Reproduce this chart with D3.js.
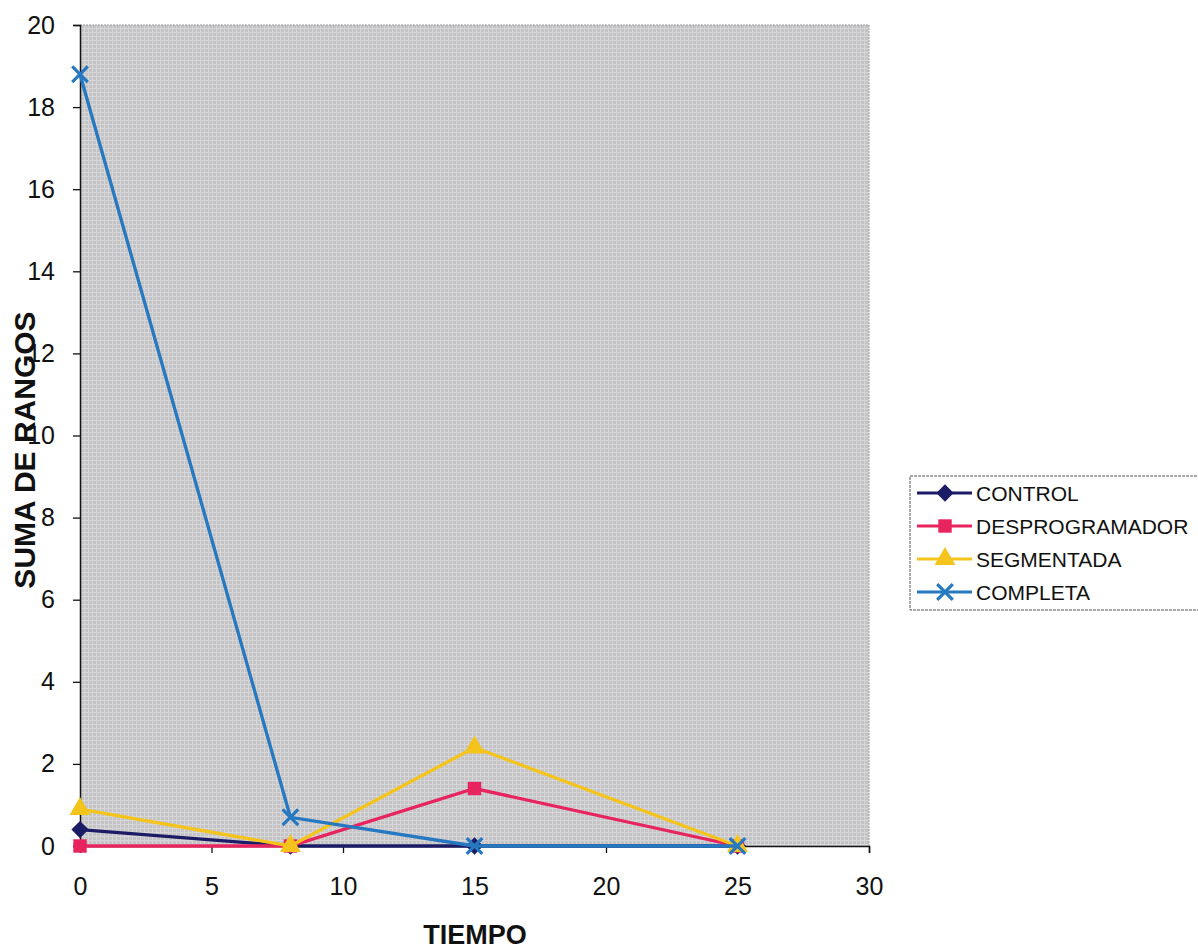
<!DOCTYPE html>
<html>
<head>
<meta charset="utf-8">
<script src="https://cdn.jsdelivr.net/npm/d3@7"></script>
<style>
  body { margin: 0; background: #fff; }
  svg { display: block; font-family: "Liberation Sans", Arial, sans-serif; }
</style>
</head>
<body>
<svg id="chart" width="1198" height="951"></svg>
<script>
const tiempo = [0, 8, 15, 25];
const seriesNames = ["CONTROL", "DESPROGRAMADOR", "SEGMENTADA", "COMPLETA"];
const control = [0.4, 0, 0, 0];
const desprogramador = [0, 0, 1.4, 0];
const segmentada = [0.9, 0, 2.4, 0];
const completa = [18.8, 0.7, 0, 0];
const xTicks = [0, 5, 10, 15, 20, 25, 30];
const yTicks = [0, 2, 4, 6, 8, 10, 12, 14, 16, 18, 20];
const xTitle = "TIEMPO";
const yTitle = "SUMA DE RANGOS";

const seriesValues = [control, desprogramador, segmentada, completa];
const colors = ["#1b1b66", "#e8245f", "#f4c41c", "#2678c0"];
const markers = ["diamond", "square", "triangle", "x"];

const svg = d3.select("#chart");
const L = 80, R = 869, T = 25, B = 846;
const x = d3.scaleLinear().domain([0, 30]).range([L, R]);
const y = d3.scaleLinear().domain([0, 20]).range([B, T]);

// stipple pattern
const defs = svg.append("defs");
const pat = defs.append("pattern").attr("id", "stip").attr("width", 4).attr("height", 4)
  .attr("patternUnits", "userSpaceOnUse");
pat.append("rect").attr("width", 4).attr("height", 4).attr("fill", "#c4c4c6");
pat.append("rect").attr("width", 4).attr("height", 1).attr("fill", "#d6d6d8");
pat.append("rect").attr("width", 1).attr("height", 4).attr("fill", "#d6d6d8");

svg.append("rect").attr("x", L).attr("y", T).attr("width", R - L).attr("height", B - T)
  .attr("fill", "url(#stip)");
// faint right/top border
svg.append("path").attr("d", `M${L},${T}H${R}V${B}`).attr("fill", "none")
  .attr("stroke", "#999").attr("stroke-width", 1).attr("stroke-dasharray", "2,1");

// axes
const xAxis = d3.axisBottom(x).tickValues(xTicks).tickSize(7).tickPadding(24);
const gx = svg.append("g").attr("transform", `translate(0,${B})`).call(xAxis);
gx.select(".domain").attr("stroke", "#111").attr("stroke-width", 1.5);
gx.selectAll(".tick line").attr("stroke", "#111").attr("stroke-width", 1.3);
gx.selectAll("text").attr("font-size", 25).attr("fill", "#111")
  .attr("font-family", "'Liberation Sans', Arial, sans-serif");

const yAxis = d3.axisLeft(y).tickValues(yTicks).tickSize(7).tickPadding(18);
const gy = svg.append("g").attr("transform", `translate(${L},0)`).call(yAxis);
gy.select(".domain").attr("stroke", "#111").attr("stroke-width", 1.5);
gy.selectAll(".tick line").attr("stroke", "#111").attr("stroke-width", 1.3);
gy.selectAll("text").attr("font-size", 25).attr("fill", "#111")
  .attr("font-family", "'Liberation Sans', Arial, sans-serif");

// titles
svg.append("text").attr("x", 475).attr("y", 944).attr("text-anchor", "middle")
  .attr("font-size", 27).attr("font-weight", "bold").attr("fill", "#111").text(xTitle);
svg.append("text").attr("transform", "translate(35,450) rotate(-90)").attr("text-anchor", "middle")
  .attr("font-size", 30).attr("font-weight", "bold").attr("fill", "#111").text(yTitle);

function drawMarker(g, type, cx, cy, color) {
  if (type === "diamond") {
    g.append("path").attr("d", d3.symbol(d3.symbolDiamond2 || d3.symbolDiamond, 190)())
      .attr("transform", `translate(${cx},${cy})`).attr("fill", color);
  } else if (type === "square") {
    g.append("path").attr("d", d3.symbol(d3.symbolSquare, 180)())
      .attr("transform", `translate(${cx},${cy})`).attr("fill", color);
  } else if (type === "triangle") {
    g.append("path").attr("d", d3.symbol(d3.symbolTriangle, 190)())
      .attr("transform", `translate(${cx},${cy})`).attr("fill", color);
  } else {
    g.append("path").attr("d", d3.symbol(d3.symbolTimes, 160)())
      .attr("transform", `translate(${cx},${cy})`).attr("fill", "none")
      .attr("stroke", color).attr("stroke-width", 3.2);
  }
}

const line = d3.line().x(d => x(d[0])).y(d => y(d[1]));
seriesValues.forEach((vals, i) => {
  const pts = tiempo.map((t, j) => [t, vals[j]]);
  const g = svg.append("g");
  g.append("path").attr("d", line(pts)).attr("fill", "none")
    .attr("stroke", colors[i]).attr("stroke-width", 3.3);
  pts.forEach(p => drawMarker(g, markers[i], x(p[0]), y(p[1]), colors[i]));
});

// legend
const lg = svg.append("g");
lg.append("rect").attr("x", 910).attr("y", 476).attr("width", 300).attr("height", 134)
  .attr("fill", "#fff").attr("stroke", "#555").attr("stroke-width", 1).attr("stroke-dasharray", "3,1");
seriesNames.forEach((name, i) => {
  const yy = 493 + i * 33;
  lg.append("line").attr("x1", 917).attr("x2", 972).attr("y1", yy).attr("y2", yy)
    .attr("stroke", colors[i]).attr("stroke-width", 3);
  drawMarker(lg, markers[i], 945, yy, colors[i]);
  lg.append("text").attr("x", 976).attr("y", yy).attr("dy", "0.36em")
    .attr("font-size", 21).attr("fill", "#111").text(name);
});
</script>
</body>
</html>
